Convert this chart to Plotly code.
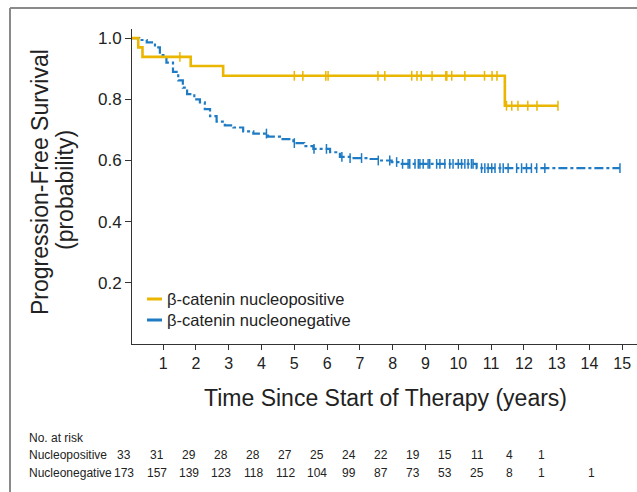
import numpy as np
import plotly.graph_objects as go

# ---------------- data ----------------
pos_times = [0.0, 0.24, 0.37, 1.84, 2.83, 11.42]
pos_surv = [1.0, 0.970, 0.939, 0.909, 0.877, 0.779]
pos_end = 13.04
pos_cens = [1.51, 5.0, 5.26, 5.96, 6.03, 7.55, 7.76, 8.58, 8.74, 8.87, 9.2, 9.62,
            9.65, 9.8, 10.2, 10.8, 11.03, 11.18, 11.47, 11.63, 11.82, 12.12, 12.4, 13.04]

neg_times = [0.0, 0.27, 0.5, 0.75, 0.9, 1.1, 1.3, 1.46, 1.6, 1.73, 1.95, 2.12, 2.27,
             2.43, 2.63, 2.88, 3.14, 3.44, 3.75, 4.2, 4.56, 4.97, 5.3, 5.58, 6.09,
             6.39, 6.69, 7.24, 7.55, 7.97, 8.22, 10.56]
neg_surv = [1.0, 0.994, 0.986, 0.97, 0.945, 0.92, 0.89, 0.862, 0.838, 0.817, 0.80,
            0.79, 0.768, 0.745, 0.727, 0.715, 0.708, 0.695, 0.688, 0.678, 0.67, 0.657,
            0.647, 0.638, 0.627, 0.612, 0.608, 0.605, 0.60, 0.595, 0.589, 0.575]
neg_end = 14.93
neg_cens = [4.15, 5.0, 5.6, 5.98, 6.45, 6.70, 7.05, 7.56, 7.91, 8.12, 8.3, 8.47, 8.52,
            8.68, 8.78, 8.83, 8.93, 9.08, 9.13, 9.34, 9.44, 9.59, 9.74, 9.84, 10.0,
            10.1, 10.2, 10.3, 10.4, 10.45, 10.71, 10.81, 10.91, 11.02, 11.12, 11.27,
            11.37, 11.52, 11.78, 11.93, 12.08, 12.23, 12.39, 12.64, 14.93]

x_ticks = list(range(1, 16))
y_ticks = [0.2, 0.4, 0.6, 0.8, 1.0]

risk_label_pos = "Nucleopositive"
risk_label_neg = "Nucleonegative"
risk_pos = [33, 31, 29, 28, 28, 27, 25, 24, 22, 19, 15, 11, 4, 1]
risk_neg = [173, 157, 139, 123, 118, 112, 104, 99, 87, 73, 53, 25, 8, 1, 1]

legend_names = ["β-catenin nucleopositive", "β-catenin nucleonegative"]

# ---------------- style ----------------
YEL = "#EAB600"
BLUE = "#1E7BC4"
AX = "#333333"
REG = "Liberation Sans, Arial, Helvetica, sans-serif"

W, H = 637, 492
ML, MR, MT, MB = 132, 0, 29, 148
PW, PH = W - ML - MR, H - MT - MB


def px_x(px):
    return (px - ML) / PW


def px_y(py):
    return (H - MB - py) / PH


def surv_at(t, times, surv):
    idx = np.searchsorted(np.array(times), t, side="right") - 1
    return surv[idx]


fig = go.Figure()

# KM curves
fig.add_trace(go.Scatter(x=neg_times + [neg_end], y=neg_surv + [neg_surv[-1]],
                         mode="lines", line=dict(color=BLUE, width=2.2, shape="hv", dash="dashdot"),
                         showlegend=False, hoverinfo="skip"))
fig.add_trace(go.Scatter(x=neg_cens, y=[surv_at(t, neg_times, neg_surv) for t in neg_cens],
                         mode="markers", marker=dict(symbol="line-ns", size=7,
                                                     line=dict(color=BLUE, width=1.5)),
                         showlegend=False, hoverinfo="skip"))
fig.add_trace(go.Scatter(x=pos_times + [pos_end], y=pos_surv + [pos_surv[-1]],
                         mode="lines", line=dict(color=YEL, width=2.6, shape="hv"),
                         showlegend=False, hoverinfo="skip"))
fig.add_trace(go.Scatter(x=pos_cens, y=[surv_at(t, pos_times, pos_surv) for t in pos_cens],
                         mode="markers", marker=dict(symbol="line-ns", size=7,
                                                     line=dict(color=YEL, width=1.5)),
                         showlegend=False, hoverinfo="skip"))

annotations = []
shapes = []

# "0" label, offset to the left of the axis corner
annotations.append(dict(x=-0.53, xref="x", y=px_y(361), yref="paper", text="0",
                        showarrow=False, font=dict(family=REG, size=16, color="#222"),
                        xanchor="center", yanchor="middle"))

# axis titles
annotations.append(dict(x=px_x(40), y=px_y(182), xref="paper", yref="paper",
                        text="Progression-Free Survival", textangle=-90, showarrow=False,
                        font=dict(family=REG, size=23, color="#222"),
                        xanchor="center", yanchor="middle"))
annotations.append(dict(x=px_x(65), y=px_y(190), xref="paper", yref="paper",
                        text="(probability)", textangle=-90, showarrow=False,
                        font=dict(family=REG, size=23, color="#222"),
                        xanchor="center", yanchor="middle"))
annotations.append(dict(x=px_x(385), y=px_y(398), xref="paper", yref="paper",
                        text="Time Since Start of Therapy (years)", showarrow=False,
                        font=dict(family=REG, size=23, color="#222"),
                        xanchor="center", yanchor="middle"))

# legend (drawn manually)
for i, (name, col) in enumerate(zip(legend_names, [YEL, BLUE])):
    yy = px_y(299 + 21 * i)
    shapes.append(dict(type="line", xref="paper", yref="paper", x0=px_x(147), x1=px_x(162),
                       y0=yy, y1=yy, line=dict(color=col, width=3)))
    annotations.append(dict(x=px_x(165), y=yy, xref="paper", yref="paper", text=name,
                            showarrow=False, xanchor="left", yanchor="middle",
                            font=dict(family=REG, size=16.5, color="#222")))

# number at risk table
tfont = dict(family=REG, size=12, color="#222")
annotations.append(dict(x=px_x(27), y=px_y(438), xref="paper", yref="paper",
                        text="No. at risk", showarrow=False, xanchor="left",
                        yanchor="middle", font=tfont))
for label, vals, py in [(risk_label_pos, risk_pos, 455), (risk_label_neg, risk_neg, 473)]:
    annotations.append(dict(x=px_x(27), y=px_y(py), xref="paper", yref="paper",
                            text=label, showarrow=False, xanchor="left",
                            yanchor="middle", font=tfont))
    for k, v in enumerate(vals):
        if k == 0:
            cx = 124
        elif k == 14:
            cx = 591
        else:
            cx = 157 + (k - 1) * 32
        annotations.append(dict(x=px_x(cx), y=px_y(py), xref="paper", yref="paper",
                                text=str(v), showarrow=False, xanchor="center",
                                yanchor="middle", font=tfont))

# outer frame (top and left)
shapes.append(dict(type="line", xref="paper", yref="paper", x0=px_x(10), x1=px_x(640),
                   y0=px_y(8), y1=px_y(8), line=dict(color="#8a8a8a", width=2)))
shapes.append(dict(type="line", xref="paper", yref="paper", x0=px_x(10), x1=px_x(10),
                   y0=px_y(8), y1=px_y(495), line=dict(color="#8a8a8a", width=2)))

fig.update_layout(
    width=W, height=H,
    margin=dict(l=ML, r=MR, t=MT, b=MB),
    paper_bgcolor="white", plot_bgcolor="white",
    showlegend=False,
    xaxis=dict(range=[0.05, 15.45], tickvals=x_ticks, ticks="outside", ticklen=5,
               tickcolor=AX, showline=True, linecolor=AX, linewidth=1, showgrid=False,
               zeroline=False, tickfont=dict(family=REG, size=16, color="#222")),
    yaxis=dict(range=[0, 1.03], tickvals=y_ticks, tickformat=".1f", ticks="outside",
               ticklen=6, tickcolor=AX, showline=True, linecolor=AX, linewidth=1,
               showgrid=False, zeroline=False,
               tickfont=dict(family=REG, size=17, color="#222")),
    annotations=annotations,
    shapes=shapes,
)

fig.write_html("out.html")
